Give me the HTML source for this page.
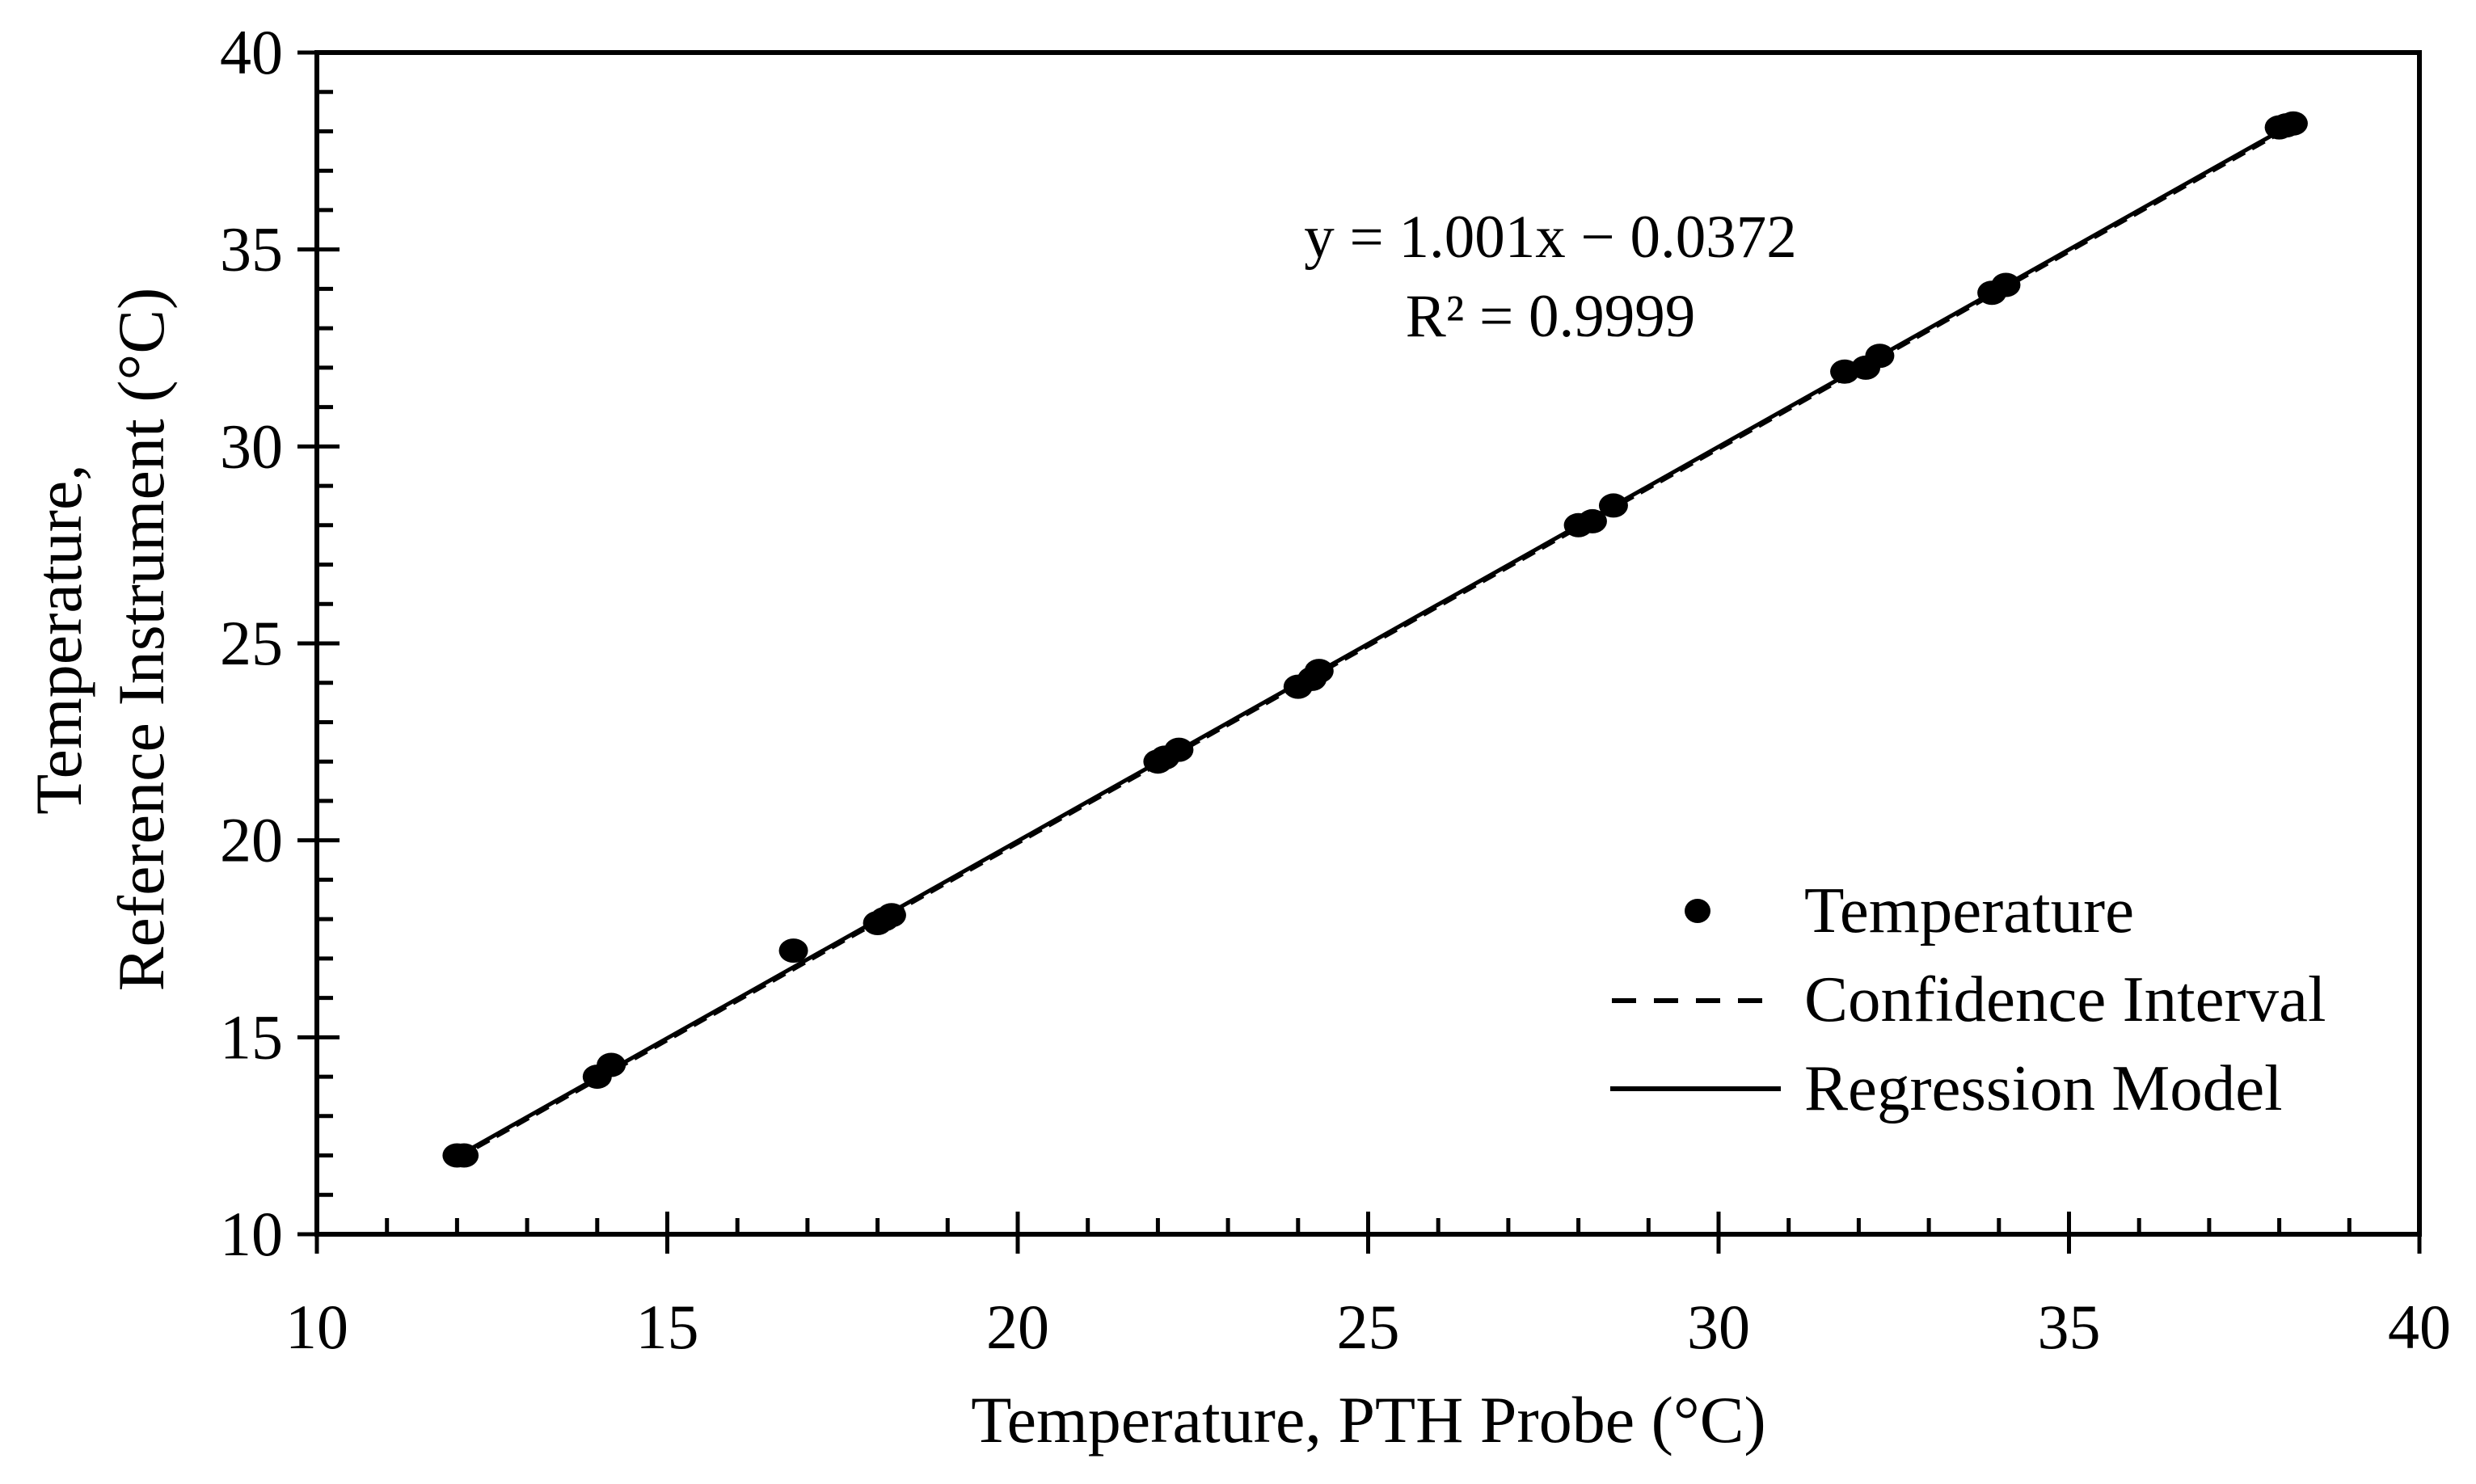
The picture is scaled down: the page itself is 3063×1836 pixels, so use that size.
<!DOCTYPE html>
<html><head><meta charset="utf-8"><style>
html,body{margin:0;padding:0;background:#fff}
svg{display:block}
text{font-family:"Liberation Serif",serif;fill:#000}
</style></head><body>
<svg id="chart" width="3063" height="1836" viewBox="0 0 3063 1836" xmlns="http://www.w3.org/2000/svg">
<g id="plot"></g>
</svg>
<script>
const xTicks=[10,15,20,25,30,35,40];
const yTicks=[10,15,20,25,30,35,40];
const xs=[12,12.1,14,14.2,16.8,18,18.1,18.2,22,22.1,22.3,24,24.2,24.3,28,28.2,28.5,31.8,32.1,32.3,33.9,34.1,38,38.1,38.2];
const ys=[12,12,14,14.3,17.2,17.9,18,18.1,22,22.1,22.3,23.9,24.1,24.3,28,28.1,28.5,31.9,32,32.3,33.9,34.1,38.1,38.15,38.2];
const slope=1.001, intercept=-0.0372;
const fitRange=[12,38.2];

const L=392,R=2993,T=65,B=1527;
const sx=v=>L+(v-10)/30*(R-L);
const sy=v=>B-(v-10)/30*(B-T);
const NS="http://www.w3.org/2000/svg";
const g=document.getElementById('plot');
function mk(tag,attrs,parent){const e=document.createElementNS(NS,tag);for(const k in attrs)e.setAttribute(k,attrs[k]);(parent||g).appendChild(e);return e;}

let fr=mk('rect',{x:L,y:T,width:R-L,height:B-T,fill:'none',stroke:'#000','stroke-width':6});



for(let v=11;v<40;v++){
  if(v%5===0)continue;
  let t=mk('line',{x1:sx(v),x2:sx(v),y1:B,y2:B-20,stroke:'#000','stroke-width':5});
  
  
  let u=mk('line',{x1:L,x2:L+20,y1:sy(v),y2:sy(v),stroke:'#000','stroke-width':5});
  
  
}
xTicks.forEach(v=>{
  let t=mk('line',{x1:sx(v),x2:sx(v),y1:B-28,y2:B+24,stroke:'#000','stroke-width':5});
  
  
  let lb=mk('text',{x:sx(v),y:1668,'text-anchor':'middle','font-size':78});
  lb.textContent=v;
  
  
});
yTicks.forEach(v=>{
  let t=mk('line',{x1:L-24,x2:L+28,y1:sy(v),y2:sy(v),stroke:'#000','stroke-width':5});
  
  
  let lb=mk('text',{x:350,y:sy(v)+26,'text-anchor':'end','font-size':78});
  lb.textContent=v;
  
  
});

let ci=mk('line',{x1:sx(fitRange[0]),y1:sy(slope*fitRange[0]+intercept)+3,x2:sx(fitRange[1]),y2:sy(slope*fitRange[1]+intercept)+3,stroke:'#000','stroke-width':4,'stroke-dasharray':'18 10'});


let rl=mk('line',{x1:sx(fitRange[0]),y1:sy(slope*fitRange[0]+intercept),x2:sx(fitRange[1]),y2:sy(slope*fitRange[1]+intercept),stroke:'#000','stroke-width':5});



xs.forEach((x,i)=>{
  let c=mk('ellipse',{cx:sx(x),cy:sy(ys[i]),rx:18,ry:15,fill:'#000'});
  
  
});

let eq=mk('text',{x:1918,y:318,'text-anchor':'middle','font-size':75});
eq.textContent='y = 1.001x \u2212 0.0372';


let r2=mk('text',{x:1918,y:416,'text-anchor':'middle','font-size':75});
r2.textContent='R\u00b2 = 0.9999';



let lg=mk('g',{});


let lm=mk('ellipse',{cx:2100,cy:1127,rx:16,ry:15,fill:'#000'},lg);


let l1=mk('text',{x:2232,y:1153,'font-size':81},lg);l1.textContent='Temperature';


let ld=mk('line',{x1:1994,x2:2190,y1:1238,y2:1238,stroke:'#000','stroke-width':6,'stroke-dasharray':'30 22'},lg);


let l2=mk('text',{x:2232,y:1263,'font-size':81},lg);l2.textContent='Confidence Interval';


let ls=mk('line',{x1:1992,x2:2203,y1:1347,y2:1347,stroke:'#000','stroke-width':6},lg);


let l3=mk('text',{x:2232,y:1373,'font-size':81},lg);l3.textContent='Regression Model';



let xt=mk('text',{x:1693,y:1784,'text-anchor':'middle','font-size':82});
xt.textContent='Temperature, PTH Probe (\u00b0C)';


let yt=mk('text',{transform:'translate(100,791) rotate(-90)','text-anchor':'middle','font-size':82});


let ya=mk('tspan',{x:0,y:0},yt);ya.textContent='Temperature,';
let yb=mk('tspan',{x:0,y:102},yt);yb.textContent='Reference Instrument (\u00b0C)';
</script>
</body></html>
